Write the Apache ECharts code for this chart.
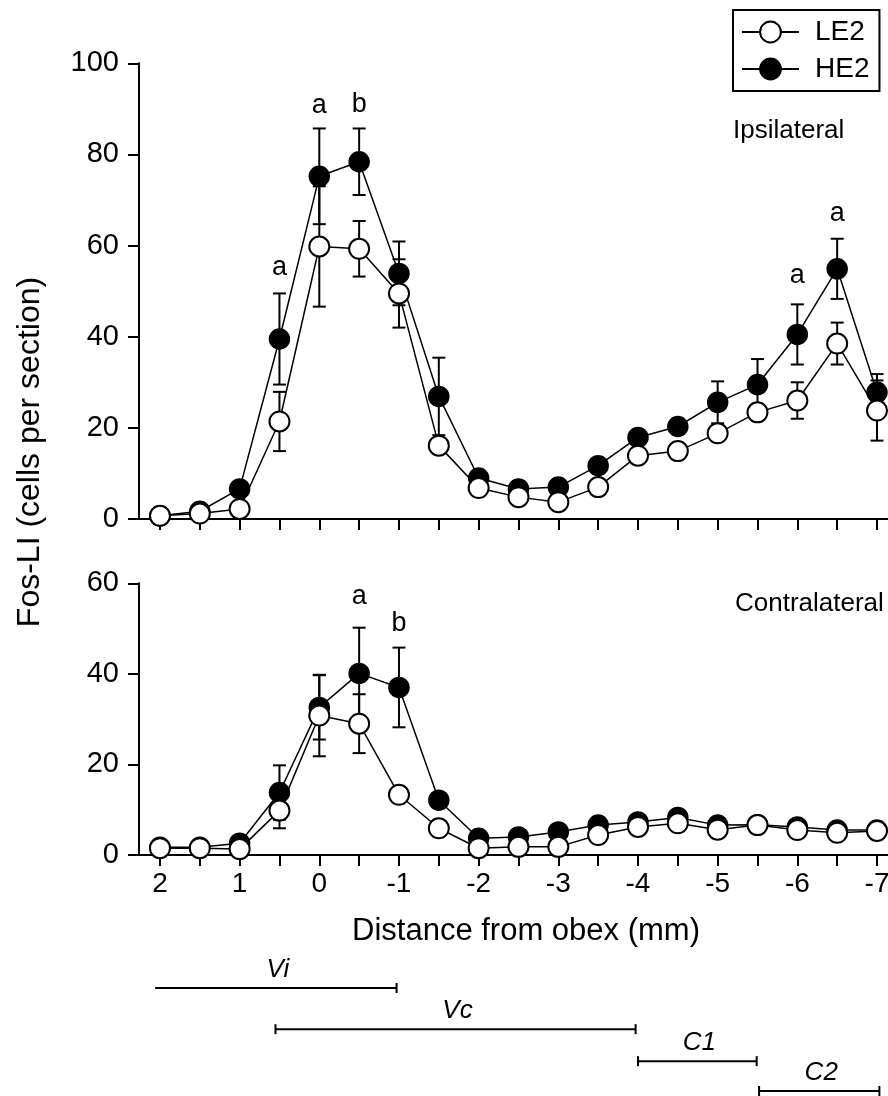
<!DOCTYPE html>
<html><head><meta charset="utf-8">
<script src="https://cdn.jsdelivr.net/npm/echarts@6/dist/echarts.min.js"></script>
<style>html,body{margin:0;padding:0;background:#fff}#c{width:888px;height:1096px}</style>
</head><body><div id="c"></div>
<script>
// ---- data ----
const distances = [2, 1.5, 1, 0.5, 0, -0.5, -1, -1.5, -2, -2.5, -3, -3.5, -4, -4.5, -5, -5.5, -6, -6.5, -7];
const tickValues = [2, 1.5, 1, 0.5, 0, -0.5, -1, -1.5, -2, -2.5, -3, -3.5, -4, -4.5, -5, -5.5, -6, -6.5, -7];
const tickLabels = [2, 1, 0, -1, -2, -3, -4, -5, -6, -7];

const ipsiLE2    = [0.7, 1.2, 2.2, 21.4, 59.8, 59.3, 49.5, 16.1, 6.8, 4.8, 3.7, 7.0, 13.9, 14.9, 18.8, 23.4, 26.0, 38.5, 23.8];
const ipsiLE2err = [0, 0, 0, 6.5, 13.2, 6.1, 7.5, 1.5, 0, 0, 0, 0, 0, 0, 1.5, 1.5, 4.0, 4.6, 6.6];
const ipsiHE2    = [0.7, 1.7, 6.6, 39.5, 75.2, 78.4, 53.9, 26.9, 9.0, 6.6, 7.0, 11.7, 17.9, 20.3, 25.6, 29.5, 40.5, 54.9, 27.8];
const ipsiHE2err = [0, 0, 0, 10.0, 10.5, 7.3, 7.0, 8.5, 0, 0, 0, 0, 0, 0, 4.6, 5.6, 6.6, 6.6, 4.0];

const contraLE2    = [1.5, 1.5, 1.3, 9.8, 30.8, 29.0, 13.3, 5.9, 1.5, 1.8, 1.8, 4.4, 6.2, 7.0, 5.6, 6.6, 5.5, 4.9, 5.3];
const contraLE2err = [0, 0, 0, 3.9, 9.0, 6.5, 0, 0, 0, 0, 0, 0, 0, 0, 0, 0, 0, 0, 0];
const contraHE2    = [1.7, 1.7, 2.6, 13.8, 32.6, 40.1, 37.0, 12.1, 3.7, 4.0, 5.1, 6.6, 7.3, 8.3, 6.6, 6.7, 6.2, 5.5, 5.5];
const contraHE2err = [0, 0, 0, 6.0, 7.1, 10.1, 8.8, 0, 0, 0, 0, 0, 0, 0, 0, 0, 0, 0, 0];

const ipsiMarkX = [0.5, 0, -0.5, -6, -6.5];
const ipsiMarkY = [55.1, 90.8, 91.0, 53.5, 67.1];
const ipsiMarkT = ['a', 'a', 'b', 'a', 'a'];
const contraMarkX = [-0.5, -1];
const contraMarkY = [57.0, 51.2];
const contraMarkT = ['a', 'b'];

const regionNames = ['Vi', 'Vc', 'C1', 'C2'];
const regionStart = [2.06, 0.55, -4.0, -5.52];
const regionEnd   = [-0.97, -3.97, -5.49, -7.03];
const regionRow   = [0, 1.2, 2.13, 3];
const regionCapStart = [0, 1, 1, 1];

// ---- helpers ----
const FONT = '"Liberation Sans", Arial, sans-serif';
const pairs = (xs, ys) => xs.map((x, i) => [x, ys[i]]);
const triples = (xs, ys, es) => xs.map((x, i) => [x, ys[i], es[i]]);

function errRender(params, api) {
  const x = api.value(0), y = api.value(1), e = api.value(2);
  if (!(e > 0)) return null;
  const p1 = api.coord([x, y + e]), p2 = api.coord([x, y - e]);
  const w = 6.5;
  const st = { stroke: '#000', lineWidth: 2 };
  return { type: 'group', children: [
    { type: 'line', shape: { x1: p1[0], y1: p1[1], x2: p2[0], y2: p2[1] }, style: st },
    { type: 'line', shape: { x1: p1[0] - w, y1: p1[1], x2: p1[0] + w, y2: p1[1] }, style: st },
    { type: 'line', shape: { x1: p2[0] - w, y1: p2[1], x2: p2[0] + w, y2: p2[1] }, style: st }
  ]};
}

function regionRender(params, api) {
  const s = api.value(0), e = api.value(1), r = api.value(2), capS = api.value(3);
  const a = api.coord([s, r]), b = api.coord([e, r]);
  const h = 5;
  const st = { stroke: '#000', lineWidth: 2 };
  const ch = [
    { type: 'line', shape: { x1: a[0], y1: a[1], x2: b[0], y2: b[1] }, style: st },
    { type: 'line', shape: { x1: b[0], y1: b[1] - h, x2: b[0], y2: b[1] + h }, style: st },
    { type: 'text', x: (a[0] + b[0]) / 2 + 2, y: a[1] - 18,
      style: { text: regionNames[params.dataIndex], fill: '#000', fontSize: 26, fontStyle: 'italic', fontFamily: FONT, align: 'center', verticalAlign: 'middle' } }
  ];
  if (capS) ch.push({ type: 'line', shape: { x1: a[0], y1: a[1] - h, x2: a[0], y2: a[1] + h }, style: st });
  return { type: 'group', children: ch };
}

const xMin = -7.138, xMax = 2.263;
function xAx(idx, showLabels, show) {
  return {
    type: 'value', gridIndex: idx, inverse: true, min: xMin, max: xMax, show: show,
    axisLine: { show: true, onZero: false, lineStyle: { color: '#000', width: 2 } },
    axisTick: { show: true, length: 11, lineStyle: { color: '#000', width: 2 }, customValues: tickValues },
    axisLabel: { show: showLabels, customValues: tickLabels, color: '#000', fontSize: 28, fontFamily: FONT, margin: 15, hideOverlap: false },
    splitLine: { show: false }
  };
}
function yAx(idx, max, show) {
  return {
    type: 'value', gridIndex: idx, min: 0, max: max, interval: 20, show: show,
    axisLine: { show: true, onZero: false, lineStyle: { color: '#000', width: 2 } },
    axisTick: { show: true, length: 11, lineStyle: { color: '#000', width: 2 } },
    axisLabel: { color: '#000', fontSize: 29, fontFamily: FONT, margin: 20 },
    splitLine: { show: false }
  };
}
function lineSeries(name, idx, ys, filled) {
  return {
    type: 'line', name: name, xAxisIndex: idx, yAxisIndex: idx, data: pairs(distances, ys),
    symbol: 'circle', symbolSize: 20, clip: false, z: filled ? 3 : 4,
    lineStyle: { color: '#000', width: 1.5 },
    itemStyle: filled ? { color: '#000', borderColor: '#000', borderWidth: 1.5 } : { color: '#fff', borderColor: '#000', borderWidth: 2 },
    emphasis: { disabled: true }
  };
}
function errSeries(idx, ys, es) {
  return { type: 'custom', xAxisIndex: idx, yAxisIndex: idx, data: triples(distances, ys, es),
    renderItem: errRender, encode: { x: 0, y: 1 }, clip: false, z: 2, silent: true };
}
function markSeries(idx, xs, ys, ts) {
  return { type: 'scatter', xAxisIndex: idx, yAxisIndex: idx, symbolSize: 1, z: 5, silent: true,
    itemStyle: { color: 'rgba(0,0,0,0)', opacity: 1 },
    data: xs.map((x, i) => ({ value: [x, ys[i]], name: ts[i] })),
    label: { show: true, position: 'inside', formatter: '{b}', color: '#000', opacity: 1, fontSize: 27, fontFamily: FONT } };
}

const gridBase = { left: 139, right: 0, containLabel: false, outerBoundsMode: 'none' };
const chart = echarts.init(document.getElementById('c'), null, { renderer: 'canvas' });
chart.setOption({
  animation: false,
  backgroundColor: '#fff',
  grid: [
    Object.assign({ top: 63.3, height: 455.7 }, gridBase),
    Object.assign({ top: 583.3, height: 271.7 }, gridBase),
    Object.assign({ top: 988, height: 103 }, gridBase)
  ],
  xAxis: [xAx(0, false, true), xAx(1, true, true), xAx(2, false, false)],
  yAxis: [yAx(0, 100, true), yAx(1, 60, true),
    { type: 'value', gridIndex: 2, min: 0, max: 3, inverse: true, show: false }],
  legend: {
    data: ['LE2', 'HE2'], orient: 'vertical', left: 733, top: 10,
    itemWidth: 57, itemHeight: 26, itemGap: 9, padding: [8, 10, 8, 8],
    borderColor: '#000', borderWidth: 2, backgroundColor: '#fff',
    textStyle: { color: '#000', fontSize: 28, fontFamily: FONT, padding: [0, 0, 0, 11] },
    selectedMode: false
  },
  graphic: [
    { type: 'text', x: 733, y: 131, style: { text: 'Ipsilateral', fill: '#000', fontSize: 26, fontFamily: FONT, align: 'left', verticalAlign: 'middle' } },
    { type: 'text', x: 735, y: 604, style: { text: 'Contralateral', fill: '#000', fontSize: 26, fontFamily: FONT, align: 'left', verticalAlign: 'middle' } },
    { type: 'text', x: 30, y: 452, rotation: Math.PI / 2, style: { text: 'Fos-LI (cells per section)', fill: '#000', fontSize: 32, fontFamily: FONT, align: 'center', verticalAlign: 'middle' } },
    { type: 'text', x: 526, y: 931, style: { text: 'Distance from obex (mm)', fill: '#000', fontSize: 31, fontFamily: FONT, align: 'center', verticalAlign: 'middle' } }
  ],
  series: [
    errSeries(0, ipsiHE2, ipsiHE2err),
    errSeries(0, ipsiLE2, ipsiLE2err),
    lineSeries('HE2', 0, ipsiHE2, true),
    lineSeries('LE2', 0, ipsiLE2, false),
    markSeries(0, ipsiMarkX, ipsiMarkY, ipsiMarkT),
    errSeries(1, contraHE2, contraHE2err),
    errSeries(1, contraLE2, contraLE2err),
    lineSeries('HE2', 1, contraHE2, true),
    lineSeries('LE2', 1, contraLE2, false),
    markSeries(1, contraMarkX, contraMarkY, contraMarkT),
    { type: 'custom', xAxisIndex: 2, yAxisIndex: 2, renderItem: regionRender, clip: false, silent: true,
      encode: { x: [0, 1], y: 2 },
      data: regionNames.map((n, i) => [regionStart[i], regionEnd[i], regionRow[i], regionCapStart[i]]) }
  ]
});
</script>
</body></html>
